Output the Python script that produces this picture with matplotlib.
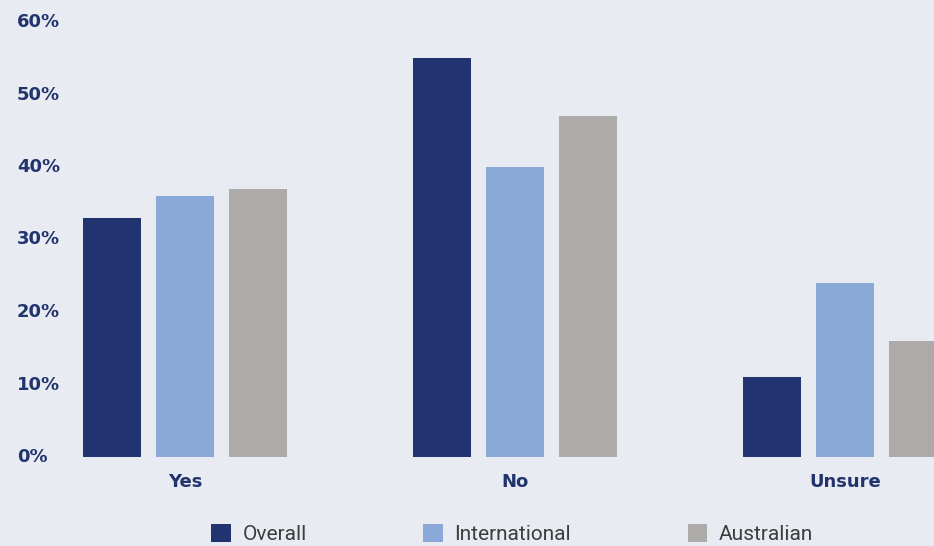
import matplotlib
matplotlib.use('Agg')
import matplotlib.pyplot as plt
import numpy as np

# dados do grafico
categorias = ['Yes', 'No', 'Unsure']
series = ['Overall', 'International', 'Australian']
overall = [33, 55, 11]
international = [36, 40, 24]
australian = [37, 47, 16]
yticks = [0, 10, 20, 30, 40, 50, 60]

cores = ['#21346f', '#8aa9d8', '#acaba9']
fundo = '#e8ebf1'
azul_texto = '#22346e'

W, H = 934, 546
fig = plt.figure(figsize=(W / 100, H / 100), dpi=100, facecolor=fundo)
# eixo ocupa toda a largura; area util de y entre os pixels 22 e 457
ax = fig.add_axes([0, 89 / H, 1, 435 / H])
ax.set_facecolor(fundo)

passo = 73 / 330
largura = 58 / 330
x = np.arange(len(categorias))
for k, (nome, valores) in enumerate(zip(series, [overall, international, australian])):
    ax.bar(x + (k - 1) * passo, valores, width=largura, color=cores[k], label=nome)

ax.set_xlim(-185 / 330, (W - 185) / 330)
ax.set_ylim(0, 60)
for s in ax.spines.values():
    s.set_visible(False)
ax.set_xticks([])
ax.set_yticks([])

# rotulos do eixo y
for v in yticks:
    ax.text(17 / W, v, f'{v}%', transform=ax.get_yaxis_transform(), ha='left', va='center',
            fontsize=13, fontweight='bold', color=azul_texto, family='DejaVu Sans')

# rotulos das categorias
for xi, c in zip(x, categorias):
    ax.text(xi, -3.5, c, ha='center', va='center', fontsize=13, fontweight='bold',
            color=azul_texto, family='DejaVu Sans', clip_on=False)

leg = fig.legend(loc='center left', bbox_to_anchor=(211 / W, 1 - 534 / H), ncol=3,
                 frameon=False, borderpad=0, borderaxespad=0,
                 handlelength=0.95, handleheight=0.95, handletextpad=0.55,
                 columnspacing=5.6, labelcolor='#3d3d3d',
                 prop={'family': 'Roboto', 'size': 15})

fig.savefig('out.png', dpi=100, facecolor=fundo)
